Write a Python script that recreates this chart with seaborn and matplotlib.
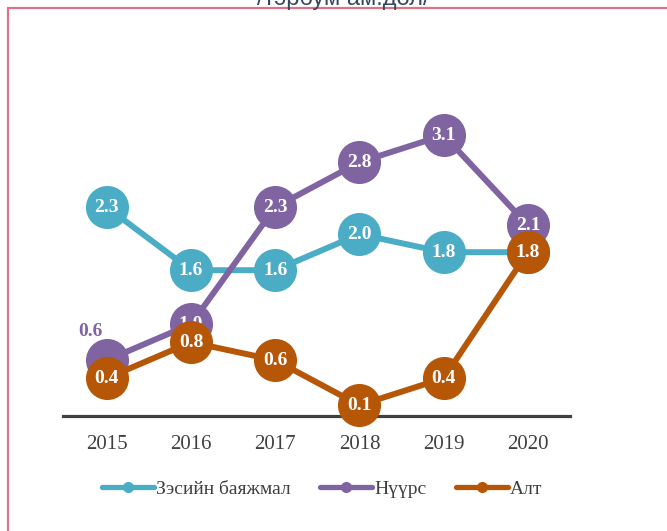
import matplotlib
matplotlib.use("Agg")
import matplotlib.pyplot as plt
import seaborn as sns
import pandas as pd
from matplotlib.lines import Line2D

years = ["2015", "2016", "2017", "2018", "2019", "2020"]
copper = [2.3, 1.6, 1.6, 2.0, 1.8, 1.8]
coal = [0.6, 1.0, 2.3, 2.8, 3.1, 2.1]
gold = [0.4, 0.8, 0.6, 0.1, 0.4, 1.8]
series_names = ["Зэсийн баяжмал", "Нүүрс", "Алт"]
colors = ["#4BACC6", "#8064A2", "#B65708"]
title = "/тэрбум ам.дол/"

sns.set_theme(style="white")
plt.rcParams["font.family"] = ["Liberation Serif", "DejaVu Serif"]

fig = plt.figure(figsize=(6.67, 5.31), dpi=100)
ax = fig.add_axes([63/667, 115/531, (570-63)/667, 316.8/531])

df = pd.DataFrame({"year": list(range(len(years))) * 3,
                   "value": copper + coal + gold,
                   "series": [series_names[0]] * 6 + [series_names[1]] * 6 + [series_names[2]] * 6})

for i, (name, col) in enumerate(zip(series_names, colors)):
    sub = df[df["series"] == name]
    sns.lineplot(data=sub, x="year", y="value", ax=ax, color=col, linewidth=4.3,
                 marker="o", markersize=31, markeredgewidth=0, legend=False,
                 zorder=3 + i, clip_on=False)
    for j, (x, v) in enumerate(zip(sub["year"], sub["value"])):
        if name == series_names[1] and j == 0:
            ax.text(x - 0.2, v + 0.32, f"{v:.1f}", color=col, fontsize=14, fontweight="bold",
                    ha="center", va="center", zorder=10)
        else:
            ax.text(x, v, f"{v:.1f}", color="white", fontsize=14, fontweight="bold",
                    ha="center", va="center", zorder=3 + i + 0.5)

ax.set_xlim(-0.52, 5.5)
ax.set_ylim(-0.02, 3.5)
ax.set_xticks(range(len(years)))
ax.set_xticklabels(years, fontsize=15, color="#404040")
ax.set_yticks([])
ax.set_xlabel("")
ax.set_ylabel("")
for s in ["top", "right", "left"]:
    ax.spines[s].set_visible(False)
ax.spines["bottom"].set_color("#404040")
ax.spines["bottom"].set_linewidth(2.3)
ax.spines["bottom"].set_zorder(2)
ax.tick_params(axis="x", length=0, pad=14)

handles = [Line2D([0], [0], color=c, lw=3.8, marker="o", markersize=7) for c in colors]
fig.legend(handles, series_names, loc="center", bbox_to_anchor=(322/667, 42/531), ncol=3,
           frameon=False, fontsize=14, handlelength=2.7, handletextpad=0.1, columnspacing=1.5,
           labelcolor="#404040")

fig.text(343/667, 1 - 5/531, title, ha="center", va="baseline", fontsize=17, color="#34495E",
         family=["Liberation Sans", "DejaVu Sans"])

fig.add_artist(Line2D([8/667, 8/667], [0, 1 - 7.5/531], transform=fig.transFigure, color="#DC7488", lw=1.6))
fig.add_artist(Line2D([8/667, 1], [1 - 7.5/531, 1 - 7.5/531], transform=fig.transFigure, color="#DC7488", lw=1.6))

fig.savefig("out.png", dpi=100)
